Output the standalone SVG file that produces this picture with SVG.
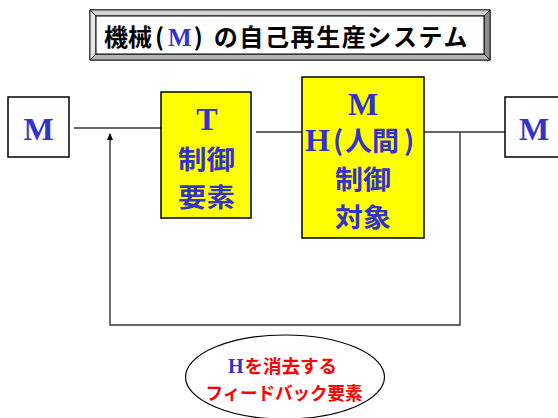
<svg xmlns="http://www.w3.org/2000/svg" width="558" height="418" viewBox="0 0 558 418">
<style>
.cjk{font-family:"Noto Sans CJK JP","Noto Sans CJK SC",sans-serif;font-weight:bold}
.lat{font-family:"Liberation Serif",serif;font-weight:bold}
.blue{fill:#3333cc}
.box{stroke:#000;stroke-width:1.5}
.wire{fill:none;stroke:#333;stroke-width:1.4}
</style>
<defs>
<marker id="arr" markerWidth="8" markerHeight="8" refX="6" refY="4" orient="auto" markerUnits="userSpaceOnUse">
<path d="M0,1 L7,4 L0,7 Z" fill="#000"/>
</marker>
</defs>
<rect width="558" height="418" fill="#fff"/>
<g id="title">
<rect x="90" y="10" width="400" height="50" fill="#fff" stroke="#000" stroke-width="1"/>
<polygon points="90,10 490,10 484,16 96,16" fill="#d4d4d4" stroke="#000" stroke-width="0.8"/>
<polygon points="90,10 96,16 96,54 90,60" fill="#e6e6e6" stroke="#000" stroke-width="0.8"/>
<polygon points="490,10 490,60 484,54 484,16" fill="#8e8e8e" stroke="#000" stroke-width="0.8"/>
<polygon points="90,60 490,60 484,54 96,54" fill="#b4b4b4" stroke="#000" stroke-width="0.8"/>
<rect x="96" y="16" width="388" height="38" fill="#fff" stroke="#000" stroke-width="1"/>
<text x="104" y="46" font-size="24" class="cjk" fill="#000">機械<tspan dx="3">(</tspan><tspan dx="4" class="lat blue" font-size="25">M</tspan><tspan dx="2">)</tspan><tspan dx="11" letter-spacing="1.6">の自己再生産システム</tspan></text>
</g>
<g id="connectors">
<line x1="74" y1="128" x2="161" y2="128" class="wire"/>
<line x1="256" y1="132" x2="302" y2="132" class="wire"/>
<line x1="424" y1="132" x2="505" y2="132" class="wire"/>
<polyline points="460,132 460,325 110,325 110,134" class="wire" marker-end="url(#arr)"/>
</g>
<g id="m-in">
<rect x="8" y="97" width="61" height="60" fill="#fff" class="box"/>
<text x="38.5" y="140" text-anchor="middle" font-size="32" class="lat blue">M</text>
</g>
<g id="t-ctrl">
<rect x="161" y="92" width="90" height="126" fill="#ffff00" class="box"/>
<text x="207" y="130" text-anchor="middle" font-size="32" class="lat blue">T</text>
<text x="206.5" y="168.5" text-anchor="middle" font-size="26" class="cjk blue" textLength="57" lengthAdjust="spacingAndGlyphs">制御</text>
<text x="206.5" y="206.5" text-anchor="middle" font-size="26" class="cjk blue" textLength="57" lengthAdjust="spacingAndGlyphs">要素</text>
</g>
<g id="mh-obj">
<rect x="302" y="77" width="122" height="161" fill="#ffff00" class="box"/>
<text x="363" y="115" text-anchor="middle" font-size="32" class="lat blue">M</text>
<text x="305" y="151" font-size="27" class="cjk blue"><tspan class="lat" font-size="32">H</tspan><tspan dx="3">(</tspan><tspan dx="2">人間</tspan><tspan dx="5">)</tspan></text>
<text x="363" y="189" text-anchor="middle" font-size="26" class="cjk blue" textLength="56" lengthAdjust="spacingAndGlyphs">制御</text>
<text x="363" y="227" text-anchor="middle" font-size="26" class="cjk blue" textLength="56" lengthAdjust="spacingAndGlyphs">対象</text>
</g>
<g id="m-out">
<rect x="505" y="97" width="60" height="60" fill="#fff" class="box"/>
<text x="534" y="140" text-anchor="middle" font-size="32" class="lat blue">M</text>
</g>
<g id="feedback">
<ellipse cx="285" cy="377" rx="99.5" ry="42" fill="#fff" stroke="#000" stroke-width="1.2"/>
<text x="228" y="373" font-size="18.5" class="cjk" fill="#ff0000"><tspan class="lat blue" font-size="20">H</tspan><tspan dx="1">を消去する</tspan></text>
<text x="284" y="399.5" text-anchor="middle" font-size="18" class="cjk" fill="#ff0000" textLength="157" lengthAdjust="spacingAndGlyphs">フィードバック要素</text>
</g>
</svg>
